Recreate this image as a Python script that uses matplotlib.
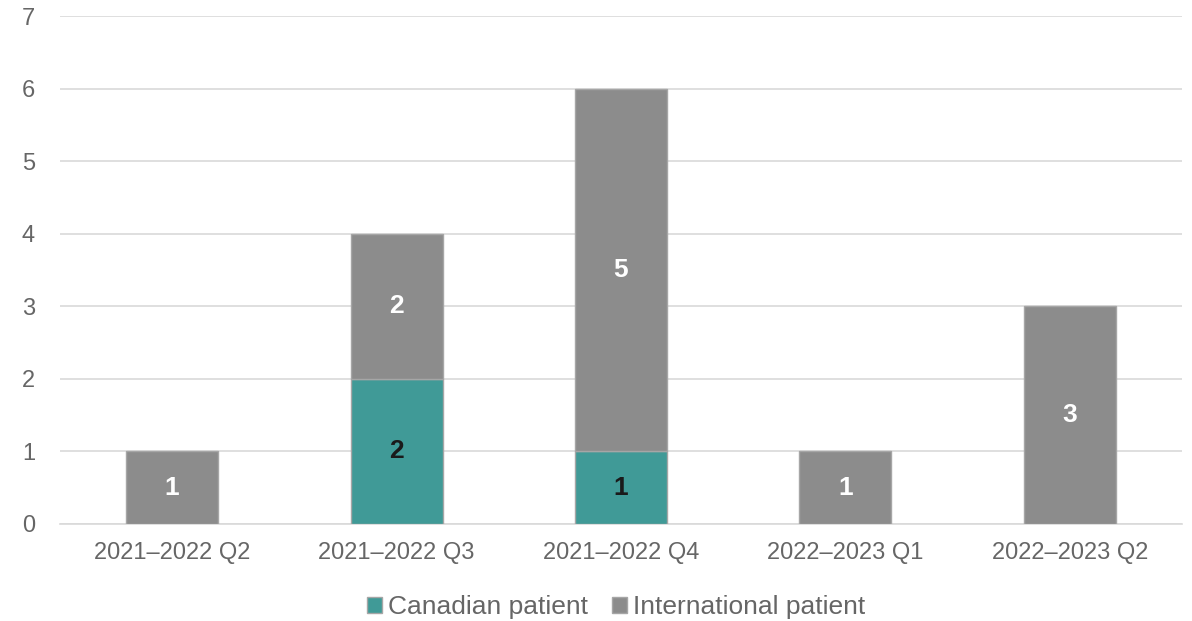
import numpy as np
import matplotlib.pyplot as plt

plt.rcParams['font.family'] = ['Liberation Sans', 'DejaVu Sans']

# Данные
quarters = ['2021–2022 Q2', '2021–2022 Q3', '2021–2022 Q4', '2022–2023 Q1', '2022–2023 Q2']
canadian = [0, 2, 1, 0, 0]
international = [1, 2, 5, 1, 3]

teal = '#409A97'
grey = '#8C8C8C'

fig = plt.figure(figsize=(11.92, 6.21), dpi=100)
ax = fig.add_axes([0.0503, 0.1562, 0.9413, 0.818])

x = np.arange(len(quarters))
w = 0.41
b1 = ax.bar(x, canadian, w, color=teal, edgecolor='#A6A6A6', linewidth=1,
            label='Canadian patient', zorder=3)
b2 = ax.bar(x, international, w, bottom=canadian, color=grey, edgecolor='#A6A6A6',
            linewidth=1, label='International patient', zorder=3)

# Подписи значений
for i in range(len(x)):
    if canadian[i] > 0:
        ax.text(x[i], canadian[i] / 2, str(canadian[i]), ha='center', va='center',
                fontsize=19, fontweight='bold', color='#1A1A1A', zorder=4)
    if international[i] > 0:
        ax.text(x[i], canadian[i] + international[i] / 2, str(international[i]),
                ha='center', va='center', fontsize=19, fontweight='bold',
                color='white', zorder=4)

ax.set_xlim(-0.5, len(quarters) - 0.5)
ax.set_ylim(0, 7)
ax.set_yticks(range(0, 8))
ax.set_xticks(x)
ax.set_xticklabels(quarters)
ax.tick_params(axis='both', length=0, labelsize=17, colors='#666666')
ax.tick_params(axis='x', pad=13)
ax.tick_params(axis='y', pad=18)
ax.grid(axis='y', color='#D9D9D9', linewidth=1.2, zorder=0)
for s in ['top', 'right', 'left']:
    ax.spines[s].set_visible(False)
ax.spines['bottom'].set_color('#D9D9D9')
ax.spines['bottom'].set_linewidth(1.2)

fig.legend(handles=[b1, b2], loc='center', bbox_to_anchor=(0.517, 0.022), ncol=2,
           frameon=False, fontsize=19, labelcolor='#666666', handlelength=0.57,
           handleheight=0.57, handletextpad=0.23, columnspacing=0.9)

fig.savefig('out.png', dpi=100)
